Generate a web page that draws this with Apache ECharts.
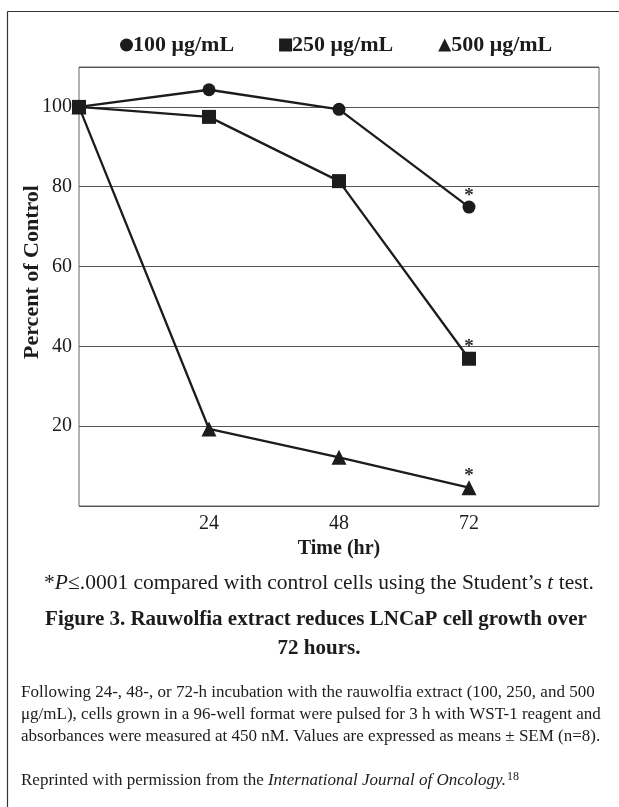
<!DOCTYPE html>
<html>
<head>
<meta charset="utf-8">
<script src="https://cdn.jsdelivr.net/npm/echarts@6/dist/echarts.min.js"></script>
<style>
  html, body { margin: 0; padding: 0; background: #fff; }
  #chart { width: 619px; height: 807px; }
</style>
</head>
<body>
<div id="chart"></div>
<script>
// ---- data ----
const hours = [0, 24, 48, 72];
const seriesNames = ['100 μg/mL', '250 μg/mL', '500 μg/mL'];
const values100 = [100, 104.3, 99.4, 74.9];
const values250 = [100, 97.5, 81.4, 36.9];
const values500 = [100, 19.3, 12.2, 4.6];
const xTickLabels = ['24', '48', '72'];
const yTickLabels = ['20', '40', '60', '80', '100'];
const significant = [false, false, false, true]; // asterisk marks

const FONT = "'Liberation Serif', 'DejaVu Serif', serif";
const INK = '#1c1c1c';

function build(vals) {
  return hours.map((h, i) => {
    const item = { value: [h, vals[i]] };
    if (significant[i]) {
      item.label = { show: true, formatter: '*', position: 'top', distance: -5,
        fontFamily: FONT, fontSize: 19, fontWeight: 'bold', color: '#2a2a2a' };
    }
    return item;
  });
}

const symbols = ['circle', 'rect', 'triangle'];
const sizes = [13, 14, 15];
const zs = [3, 5, 4];
const allVals = [values100, values250, values500];

const chart = echarts.init(document.getElementById('chart'), null, { renderer: 'canvas' });

const option = {
  backgroundColor: '#fff',
  animation: false,
  legend: {
    left: 115, top: 29,
    itemGap: 45,
    itemWidth: 13, itemHeight: 13,
    data: seriesNames.map((n, i) => ({ name: n, icon: symbols[i] })),
    textStyle: { fontFamily: FONT, fontSize: 22, fontWeight: 'bold', color: INK, padding: [0, 0, 0, -5] },
    itemStyle: { color: INK }
  },
  grid: {
    left: 79, right: 20, top: 67, bottom: 301,
    show: true, borderColor: '#666', borderWidth: 1, backgroundColor: 'transparent'
  },
  xAxis: {
    type: 'value', min: 0, max: 96, interval: 24,
    name: 'Time (hr)', nameLocation: 'middle', nameGap: 32,
    nameTextStyle: { fontFamily: FONT, fontSize: 20, fontWeight: 'bold', color: INK },
    axisLine: { show: false }, axisTick: { show: false },
    splitLine: { show: false },
    axisLabel: {
      fontFamily: FONT, fontSize: 20, color: INK, margin: 8,
      formatter: v => xTickLabels.includes(String(v)) ? String(v) : ''
    }
  },
  yAxis: {
    type: 'value', min: 0, max: 110, interval: 20,
    axisLine: { show: false }, axisTick: { show: false },
    splitLine: { show: true, lineStyle: { color: '#555', width: 1 } },
    axisLabel: {
      fontFamily: FONT, fontSize: 20, color: INK, margin: 7,
      formatter: v => yTickLabels.includes(String(v)) ? String(v) : ''
    }
  },
  series: seriesNames.map((n, i) => ({
    name: n, type: 'line',
    data: build(allVals[i]),
    symbol: symbols[i], symbolSize: sizes[i],
    showAllSymbol: true,
    lineStyle: { color: INK, width: 2.3 },
    itemStyle: { color: INK },
    z: zs[i]
  })),
  graphic: [
    { type: 'line', shape: { x1: 7.5, y1: 11.5, x2: 619, y2: 11.5 }, style: { stroke: '#333', lineWidth: 1.2 } },
    { type: 'line', shape: { x1: 7.5, y1: 11.5, x2: 7.5, y2: 807 }, style: { stroke: '#333', lineWidth: 1.2 } },
    { type: 'text', x: 32, y: 272, rotation: Math.PI / 2,
      style: {
        x: 0, y: 0, align: 'center', verticalAlign: 'middle',
        text: 'Percent of Control',
        fontFamily: FONT, fontSize: 22, fontWeight: 'bold', fill: INK } },
    { type: 'text', style: {
        x: 319, y: 583, align: 'center', verticalAlign: 'middle',
        text: '*{i|P}≤.0001 compared with control cells using the Student’s {i|t} test.',
        fontFamily: FONT, fontSize: 21.5, fill: INK,
        rich: { i: { fontStyle: 'italic', fontFamily: FONT, fontSize: 21.5 } }
      }
    },
    { type: 'text', style: {
        x: 316, y: 620, align: 'center', verticalAlign: 'middle',
        text: 'Figure 3. Rauwolfia extract reduces LNCaP cell growth over',
        fontFamily: FONT, fontSize: 21, fontWeight: 'bold', fill: INK } },
    { type: 'text', style: {
        x: 319, y: 649, align: 'center', verticalAlign: 'middle',
        text: '72 hours.',
        fontFamily: FONT, fontSize: 21, fontWeight: 'bold', fill: INK } },
    { type: 'text', style: {
        x: 21, y: 693, align: 'left', verticalAlign: 'middle',
        text: 'Following 24-, 48-, or 72-h incubation with the rauwolfia extract (100, 250, and 500',
        fontFamily: FONT, fontSize: 17, fill: INK } },
    { type: 'text', style: {
        x: 21, y: 715, align: 'left', verticalAlign: 'middle',
        text: 'μg/mL), cells grown in a 96-well format were pulsed for 3 h with WST-1 reagent and',
        fontFamily: FONT, fontSize: 17, fill: INK } },
    { type: 'text', style: {
        x: 21, y: 737, align: 'left', verticalAlign: 'middle',
        text: 'absorbances were measured at 450 nM. Values are expressed as means ± SEM (n=8).',
        fontFamily: FONT, fontSize: 17, fill: INK } },
    { type: 'text', style: {
        x: 21, y: 781, align: 'left', verticalAlign: 'middle',
        text: 'Reprinted with permission from the {i|International Journal of Oncology.}{s|18}',
        fontFamily: FONT, fontSize: 17, fill: INK,
        rich: {
          i: { fontStyle: 'italic', fontFamily: FONT, fontSize: 17 },
          s: { fontFamily: FONT, fontSize: 12, padding: [0, 0, 9, 1] }
        } } }
  ]
};
chart.setOption(option);
</script>
</body>
</html>
